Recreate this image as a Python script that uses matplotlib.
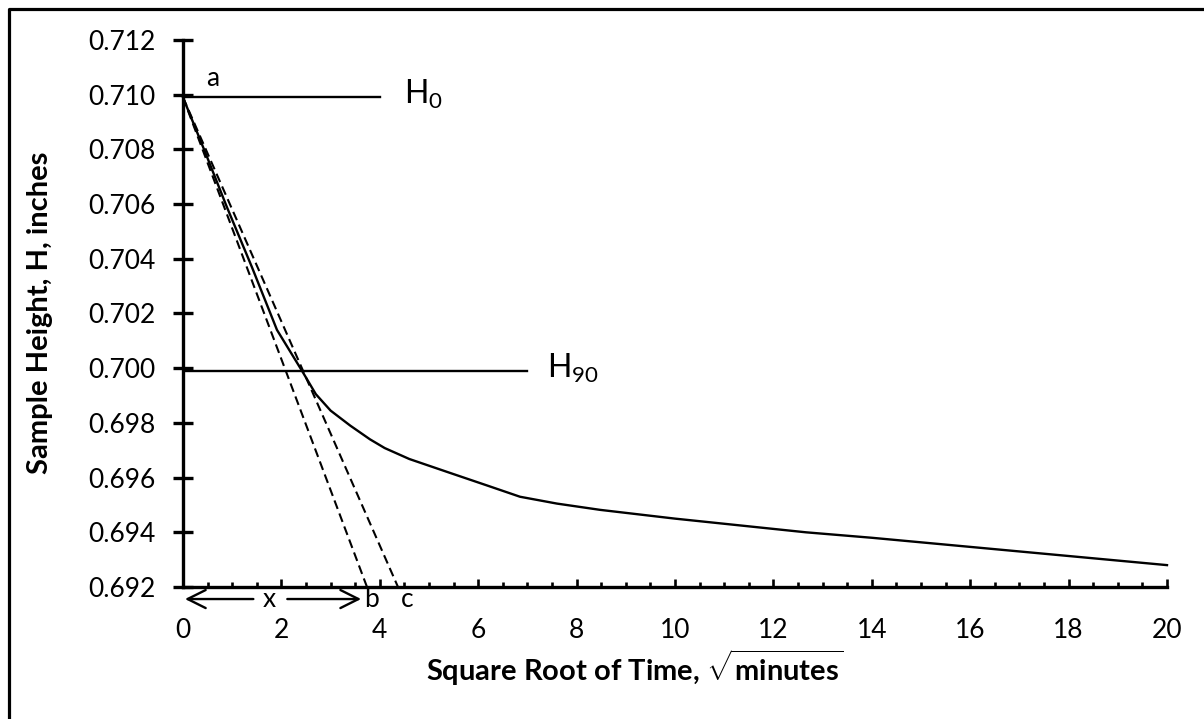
import matplotlib
matplotlib.use("Agg")
import matplotlib.pyplot as plt
from matplotlib.ticker import MultipleLocator, FormatStrFormatter
from matplotlib.lines import Line2D

plt.rcParams['font.family'] = ['Lato', 'DejaVu Sans']
plt.rcParams['mathtext.fontset'] = 'custom'
plt.rcParams['mathtext.rm'] = 'Lato'
plt.rcParams['mathtext.it'] = 'Lato:italic'
plt.rcParams['mathtext.bf'] = 'Lato:bold'
plt.rcParams['lines.scale_dashes'] = False

# Consolidation curve: sample height vs square root of time
sqrt_time = [0, 0.45, 0.89, 1.4, 1.91, 2.42, 2.7, 3.0, 3.4, 3.8, 4.1, 4.6, 5.43, 6.2, 6.85,
             7.6, 8.48, 10.0, 12.66, 14.0, 16.4, 20.0]
height = [0.7099, 0.7079, 0.7059, 0.7037, 0.7014, 0.6999, 0.69905, 0.69845, 0.6979, 0.6974,
          0.69708, 0.69668, 0.69617, 0.69570, 0.69530, 0.69505, 0.69482, 0.6945, 0.6940,
          0.6938, 0.6934, 0.6928]

# Reference heights and construction lines (Taylor's square-root-of-time method)
H0 = 0.7099
H90 = 0.6999
h0_line_end = 4.0
h90_line_end = 7.0
b_intercept = 3.74
c_intercept = 4.37

x_ticks = [0, 2, 4, 6, 8, 10, 12, 14, 16, 18, 20]
y_min, y_max = 0.692, 0.712

W, H = 1204, 719
fig = plt.figure(figsize=(W / 100, H / 100), dpi=100)
ax = fig.add_axes([183 / W, 1 - 587 / H, (1167 - 183) / W, (587 - 40) / H])

ax.plot(sqrt_time, height, color='black', lw=1.7, clip_on=False)
ax.plot([0, h0_line_end], [H0, H0], color='black', lw=1.7)
ax.plot([0, h90_line_end], [H90, H90], color='black', lw=1.7)
ax.plot([0, b_intercept], [H0, y_min], color='black', lw=1.5, linestyle=(0, (6.5, 3.5)), clip_on=False)
ax.plot([0, c_intercept], [H0, y_min], color='black', lw=1.5, linestyle=(0, (6.5, 3.5)), clip_on=False)

ax.set_xlim(0, 20)
ax.set_ylim(y_min, y_max)
ax.set_xticks(x_ticks)
ax.xaxis.set_minor_locator(MultipleLocator(0.5))
ax.yaxis.set_major_locator(MultipleLocator(0.002))
ax.yaxis.set_major_formatter(FormatStrFormatter('%.3f'))

for side in ('top', 'right'):
    ax.spines[side].set_visible(False)
for side in ('left', 'bottom'):
    ax.spines[side].set_linewidth(2.4)

ax.tick_params(axis='y', which='major', direction='inout', length=14, width=2.4,
               pad=13, labelsize=19)
ax.tick_params(axis='x', which='major', direction='in', length=6, width=1.9,
               pad=22, labelsize=19)
ax.tick_params(axis='x', which='minor', direction='in', length=3.5, width=1.9)

# Point labels and the "x" distance arrow
ax.text(0.61, 0.7106, 'a', ha='center', va='center', fontsize=19)
ax.text(4.5, H0 + 0.0001, r'H$_{0}$', ha='left', va='center', fontsize=23)
ax.text(7.4, H90 + 0.0001, r'H$_{90}$', ha='left', va='center', fontsize=23)

y_arrow = 0.69156
ax.text(1.76, y_arrow, 'x', ha='center', va='center', fontsize=19, clip_on=False)
ax.text(3.84, y_arrow, 'b', ha='center', va='center', fontsize=19, clip_on=False)
ax.text(4.55, y_arrow - 0.00003, 'c', ha='center', va='center', fontsize=19, clip_on=False)
arrow_props = dict(arrowstyle='->, head_length=1.3, head_width=0.65', lw=1.7, color='black',
                   shrinkA=0, shrinkB=0)
ax.annotate('', xy=(0.04, y_arrow), xytext=(1.43, y_arrow), arrowprops=arrow_props,
            annotation_clip=False)
ax.annotate('', xy=(3.62, y_arrow), xytext=(2.12, y_arrow), arrowprops=arrow_props,
            annotation_clip=False)

fig.text(635 / W, 1 - 668 / H, r'Square Root of Time, $\sqrt{\mathbf{minutes}}$',
         ha='center', va='center', fontsize=21, fontweight='bold')
fig.text(40 / W, 1 - 313 / H, 'Sample Height, H, inches', ha='center', va='center',
         rotation=90, fontsize=21, fontweight='bold')

# Frame edges of the chart area
fig.add_artist(Line2D([9 / W, 9 / W, 1.0], [0.0, 1 - 9 / H, 1 - 9 / H],
                      transform=fig.transFigure, color='black', lw=2.3))

fig.savefig('out.png', dpi=100)
